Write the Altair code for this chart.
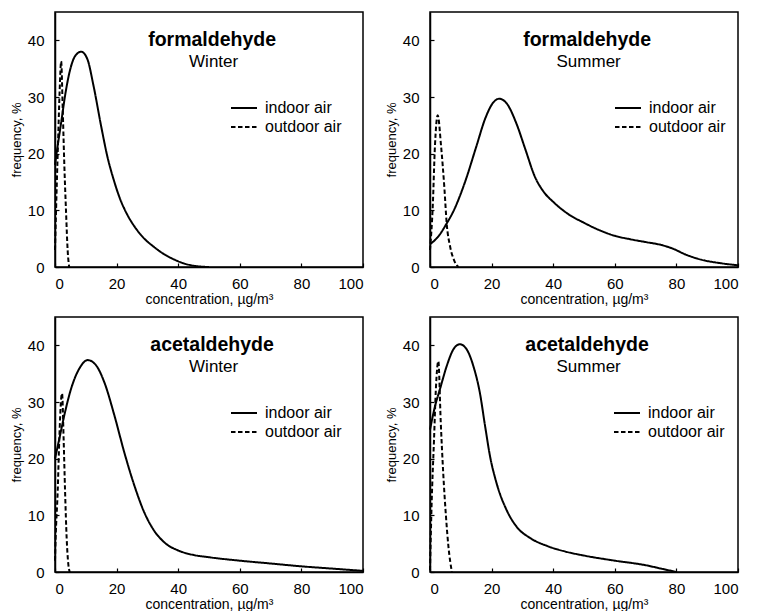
import altair as alt
import pandas as pd

FONT = "Liberation Sans"

compounds = ["formaldehyde", "formaldehyde", "acetaldehyde", "acetaldehyde"]
seasons = ["Winter", "Summer", "Winter", "Summer"]
series_names = ["indoor air", "outdoor air"]
x_ticks = [0, 20, 40, 60, 80, 100]
y_ticks = [0, 10, 20, 30, 40]

# formaldehyde, winter
fw_in_x = [0, 0.5, 2, 3.5, 5, 6.5, 8.5, 10.5, 12.5, 15, 17, 19, 21, 23.5, 26, 29, 32, 35, 38, 42, 46, 50]
fw_in_y = [18, 20, 25.5, 31, 35, 37.2, 38, 36.7, 32, 24.8, 19.5, 15.5, 12.2, 9.2, 7.0, 5.0, 3.6, 2.4, 1.5, 0.6, 0.15, 0]
fw_out_x = [0, 0.6, 1.1, 1.5, 2.0, 2.5, 3.0, 3.6, 4.1, 4.6]
fw_out_y = [3, 15, 24, 31, 36.3, 28, 18.5, 9.5, 3, 0]

# formaldehyde, summer
fs_in_x = [0, 3, 5, 8, 11.5, 15, 18, 20.5, 22.5, 25, 28, 31, 34, 37, 40, 45, 50, 55, 60, 65, 70, 75, 79, 83, 88, 94, 100]
fs_in_y = [4.0, 5.6, 7.3, 10.3, 15.2, 21.2, 26.3, 29.0, 29.7, 28.8, 25.4, 20.7, 16.0, 13.2, 11.5, 9.3, 7.8, 6.5, 5.5, 4.9, 4.4, 3.9, 3.2, 2.2, 1.3, 0.7, 0.3]
fs_out_x = [0, 0.9, 1.6, 2.5, 3.6, 4.7, 5.4, 6.5, 7.9, 9.2]
fs_out_y = [3, 10.8, 21.3, 26.8, 21.3, 13.7, 7.8, 3.7, 1.1, 0]

# acetaldehyde, winter
aw_in_x = [0, 1.4, 3, 5.2, 7.9, 10.6, 13.3, 16, 19.3, 22.5, 25.8, 29, 32.3, 36, 40, 45, 50, 60, 70, 80, 90, 100]
aw_in_y = [20, 23.5, 27.6, 32.3, 35.9, 37.4, 36.5, 33.5, 27.6, 21.1, 15.2, 10.5, 7.2, 5.0, 3.8, 3.0, 2.6, 2.0, 1.5, 1.0, 0.6, 0.2]
aw_out_x = [0, 0.2, 0.9, 1.4, 2.0, 2.3, 2.8, 3.25, 3.8, 4.3, 4.8]
aw_out_y = [2, 5.8, 14.6, 23.5, 30.6, 31.5, 23.5, 14.6, 5.8, 1.5, 0]

# acetaldehyde, summer
as_in_x = [0, 1.6, 3.2, 5.4, 7.6, 9.7, 11.9, 14.1, 16.2, 17.9, 19.5, 21.6, 24.9, 28.1, 32.5, 38, 44, 50, 60, 70, 75, 80]
as_in_y = [25.1, 29.2, 32.2, 36.3, 39.3, 40.2, 39.3, 36.3, 31.6, 25.7, 20.4, 15.7, 10.9, 8.0, 6.0, 4.6, 3.6, 2.9, 2.0, 1.2, 0.6, 0]
as_out_x = [0, 0.5, 1.3, 1.9, 2.7, 3.5, 4.3, 5.2, 6.0, 7.1]
as_out_y = [0.3, 11.5, 23.3, 32.2, 37.2, 26.3, 17.4, 9.7, 4.4, 0]

panel_data = [
    (fw_in_x, fw_in_y, fw_out_x, fw_out_y),
    (fs_in_x, fs_in_y, fs_out_x, fs_out_y),
    (aw_in_x, aw_in_y, aw_out_x, aw_out_y),
    (as_in_x, as_in_y, as_out_x, as_out_y),
]
legend_x = [184, 193, 184, 192]

W, H = 308, 255


def make_panel(i):
    ix, iy, ox, oy = panel_data[i]
    df = pd.DataFrame({
        "x": list(ix) + list(ox),
        "y": list(iy) + list(oy),
        "series": [series_names[0]] * len(ix) + [series_names[1]] * len(ox),
    })
    xs = alt.Scale(domain=[0, 100], nice=False, zero=False)
    ys = alt.Scale(domain=[0, 45], nice=False)
    lines = alt.Chart(df).mark_line(
        color="black", strokeWidth=2, interpolate="monotone"
    ).encode(
        x=alt.X("x:Q", scale=xs, axis=alt.Axis(
            values=x_ticks, title="concentration, µg/m³", orient="bottom",
            ticks=False, labelPadding=9, titlePadding=1, grid=False)),
        y=alt.Y("y:Q", scale=ys, axis=alt.Axis(
            values=y_ticks, title="frequency, %", orient="left",
            ticks=False, labelPadding=11, titlePadding=4, grid=False)),
        strokeDash=alt.StrokeDash(
            "series:N",
            scale=alt.Scale(domain=series_names, range=[[1, 0], [4.5, 2.5]]),
            legend=alt.Legend(
                title=None, orient="none", legendX=legend_x[i], legendY=87,
                symbolType="M-2.125,0H1.125", symbolSize=256, symbolStrokeWidth=2,
                symbolStrokeColor="black", labelFontSize=16, labelFont=FONT,
                labelColor="black", labelOffset=8, rowPadding=2, padding=0,
            ),
        ),
        order=alt.Order("series:N"),
    )
    tdf = pd.DataFrame({"name": [compounds[i]], "season": [seasons[i]]})
    name_txt = alt.Chart(tdf).mark_text(
        font=FONT, fontSize=19.5, fontWeight="bold", color="black", baseline="middle"
    ).encode(
        x=alt.X(datum=51, type="quantitative", axis=alt.Axis(
            orient="bottom", offset=-4, tickSize=4, labels=False, domain=False,
            title=None, values=x_ticks, ticks=True, tickColor="black",
            tickWidth=1.2, grid=False)),
        y=alt.Y(datum=40, type="quantitative", axis=alt.Axis(
            orient="left", offset=-4, tickSize=4, labels=False, domain=False,
            title=None, values=y_ticks, ticks=True, tickColor="black",
            tickWidth=1.2, grid=False)),
        text="name:N",
    )
    season_txt = alt.Chart(tdf).mark_text(
        font=FONT, fontSize=17, color="black", baseline="middle"
    ).encode(
        x=alt.X(datum=51.5, type="quantitative", axis=None),
        y=alt.Y(datum=36.2, type="quantitative", axis=None),
        text="season:N",
    )
    return alt.layer(lines, name_txt, season_txt).resolve_axis(
        x="independent", y="independent"
    ).properties(width=W, height=H)


chart = alt.concat(
    *[make_panel(i) for i in range(4)], columns=2, spacing={"row": 9, "column": 16}
).resolve_legend(strokeDash="independent").resolve_scale(
    strokeDash="independent"
).properties(
    padding={"left": 9, "top": 11, "right": 0, "bottom": 0},
    background="white",
).configure_view(
    stroke="black", strokeWidth=1.5
).configure_axis(
    labelFont=FONT, titleFont=FONT, labelFontSize=15, titleFontSize=14,
    labelColor="black", titleColor="black", domainColor="black",
    domainWidth=1.5, titleFontWeight="normal",
).configure_axisY(
    titleFontSize=13
)

chart.save("out.html", embed_options={"renderer": "svg", "actions": False})
